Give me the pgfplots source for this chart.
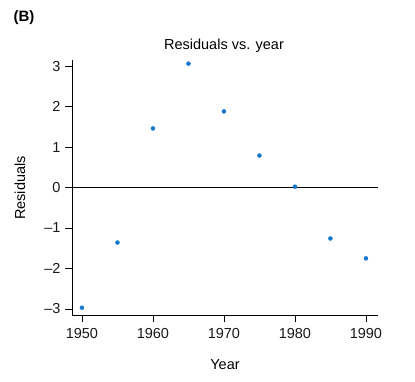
\documentclass[border=0pt]{standalone}
\usepackage{fontspec}
\setmainfont{Liberation Sans}
\usepackage{pgfplots}
\pgfplotsset{compat=1.18}
\definecolor{ptblue}{RGB}{20,120,205}
\begin{document}
\begin{tikzpicture}[x=1pt,y=1pt]
\path[use as bounding box] (0,0) rectangle (415,-381);
\begin{axis}[
  at={(72pt,-315pt)}, anchor=south west,
  scale only axis, width=306pt, height=255pt,
  xmin=1948.6, xmax=1991.7, ymin=-3.15, ymax=3.15,
  axis x line*=bottom, axis y line*=left,
  axis line style={line width=0.8pt, -},
  xtick={1950,1960,1970,1980,1990},
  xticklabels={1950,1960,1970,1980,1990},
  ytick={-3,-2,-1,0,1,2,3},
  yticklabels={\textendash3,\textendash2,\textendash1,0,1,2,3},
  tick align=outside, major tick length=7pt,
  tick style={line width=0.8pt, black},
  ticklabel style={font=\fontsize{14.5}{16}\selectfont, text=black!90},
  xticklabel style={yshift=-3pt},
  yticklabel style={xshift=-1pt},
  clip=false,
]
\addplot[black, line width=0.7pt] coordinates {(1948.6,0) (1991.7,0)};
\addplot[only marks, mark=*, mark size=2pt, color=ptblue] coordinates {
(1950,-2.97) (1955,-1.36) (1960,1.46) (1965,3.06) (1970,1.88) (1975,0.79) (1980,0.02) (1985,-1.26) (1990,-1.75)
};
\end{axis}
\node[font=\fontsize{15}{17}\selectfont\bfseries] at (24,-18) {(B)};
\node[font=\fontsize{14.5}{17}\selectfont] at (224,-46) {Residuals vs. year};
\node[font=\fontsize{14.5}{16}\selectfont, rotate=90] at (20,-188) {Residuals};
\node[font=\fontsize{14.5}{16}\selectfont] at (225,-365) {Year};
\end{tikzpicture}
\end{document}
